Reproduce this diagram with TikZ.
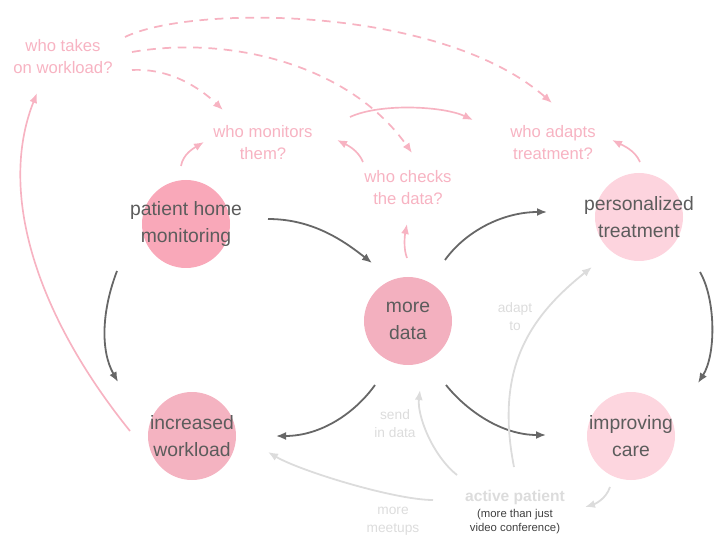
\documentclass[tikz,border=0pt]{standalone}
\usepackage{fontspec}
\setmainfont{Liberation Sans}
\usetikzlibrary{arrows.meta}
\definecolor{txtgray}{HTML}{5C5C5C}
\definecolor{flowgray}{HTML}{676767}
\definecolor{askpink}{HTML}{F7B3C2}
\definecolor{hintgray}{HTML}{DCDCDC}
\definecolor{pmfill}{HTML}{F9A8B9}
\definecolor{iwfill}{HTML}{F4B3C1}
\definecolor{mdfill}{HTML}{F3B0BF}
\definecolor{ptfill}{HTML}{FDD4DE}
\definecolor{icfill}{HTML}{FDD6DF}

\begin{document}
\begin{tikzpicture}[x=0.75pt,y=-0.75pt,
	bubble/.style={circle,inner sep=0pt,minimum size=66pt},
	bigtxt/.style={align=center,text=txtgray,font=\fontsize{14.5}{20}\selectfont},
	asktxt/.style={align=center,text=askpink,font=\fontsize{12.5}{16.5}\selectfont},
	hinttxt/.style={align=center,text=hintgray,font=\fontsize{10.3}{13.5}\selectfont},
	flow/.style={draw=flowgray,line width=1.35pt,-{Latex[length=7.5pt,width=6pt]}},
	ask/.style={draw=askpink,line width=1.25pt,-{Latex[length=7.5pt,width=6pt]}},
	askdash/.style={ask,line width=1.3pt,dash pattern=on 6.5pt off 5pt},
	hint/.style={draw=hintgray,line width=1.35pt,-{Latex[length=7.5pt,width=6pt]}}]
\useasboundingbox (0,0) rectangle (724,541);
% circles
\node[bubble,fill=pmfill](pm) at (186,224){};
\node[bubble,fill=iwfill](iw) at (192,436){};
\node[bubble,fill=mdfill](md) at (408,321){};
\node[bubble,fill=ptfill](pt) at (639,217){};
\node[bubble,fill=icfill](ic) at (631,436){};
\node[bigtxt](pmtxt) at (pm){patient home\\monitoring};
\node[bigtxt](iwtxt) at (iw){increased\\workload};
\node[bigtxt](mdtxt) at (md){more\\data};
\node[bigtxt](pttxt) at (pt){personalized\\treatment};
\node[bigtxt](ictxt) at (ic){improving\\care};
% questions
\node[asktxt](wt) at (63,57){who takes\\on workload?};
\node[asktxt](wm) at (263,143){who monitors\\them?};
\node[asktxt](wc) at (408,188){who checks\\the data?};
\node[asktxt](wa) at (553,143){who adapts\\treatment?};
% patient side
\node[text=hintgray,font=\fontsize{11.7}{14}\selectfont\bfseries](ap) at (515,497){active patient};
\node[align=center,text=black!75,font=\fontsize{8.5}{10.5}\selectfont](apsub) at (515,522){(more than just\\video conference)};
\node[hinttxt](adapt) at (515,317){adapt\\to};
\node[hinttxt](send) at (395,424){send\\in data};
\node[hinttxt](meet) at (393,521){more\\meetups};

\draw[flow]([shift={(82,-5)}]pm.center).. controls +(45,0) and +(-28,-22) ..([shift={(-36,-58)}]md.center);
\draw[flow]([shift={(37,-61)}]md.center).. controls +(20,-28) and +(-45,0) ..([shift={(-92,-5)}]pt.center);
\draw[flow]([shift={(-69,47)}]pm.center).. controls +(-15,39) and +(-18,-32) ..([shift={(-74,-54)}]iw.center);
\draw[flow]([shift={(-33,64)}]md.center).. controls +(-20,28) and +(45,0) ..([shift={(84,0)}]iw.center);
\draw[flow]([shift={(38,64)}]md.center).. controls +(20,25) and +(-45,0) ..([shift={(-85,-1)}]ic.center);
\draw[flow]([shift={(61,55)}]pt.center).. controls +(16,28) and +(18,-28) ..([shift={(67,-53)}]ic.center);

\draw[ask]([shift={(-62,-5)}]iw.center).. controls +(-92,-114) and +(-40,101) ..([shift={(-26,36)}]wt.center);
\draw[ask]([shift={(-5,-58)}]pm.center).. controls +(2,-12) and +(-10,6) ..([shift={(-59,-1)}]wm.center);
\draw[ask]([shift={(-1,-63)}]md.center).. controls +(-4,-10) and +(-2,10) ..([shift={(-1,36)}]wc.center);
\draw[ask]([shift={(1,-55)}]pt.center).. controls +(-5,-12) and +(10,5) ..([shift={(59,-3)}]wa.center);
\draw[ask]([shift={(-45,-26)}]wc.center).. controls +(-5,-12) and +(10,5) ..([shift={(74,-3)}]wm.center);
\draw[ask]([shift={(87,-26)}]wm.center).. controls +(30,-14) and +(-30,-14) ..([shift={(-80,-23)}]wa.center);

\draw[askdash]([shift={(62,-20)}]wt.center).. controls +(65,-32) and +(-112,-98) ..([shift={(-1,-40)}]wa.center);
\draw[askdash]([shift={(69,-5)}]wt.center).. controls +(98,-17) and +(-62,-88) ..([shift={(4,-35)}]wc.center);
\draw[askdash]([shift={(69,13)}]wt.center).. controls +(38,-2) and +(-23,-22) ..([shift={(-40,-33)}]wm.center);

\draw[hint]([shift={(-58,-22)}]ap.center).. controls +(-25,-20) and +(-3,25) ..([shift={(12,69)}]md.center);
\draw[hint]([shift={(-1,-30)}]ap.center).. controls +(-19,-97) and +(-64,51) ..([shift={(-47,50)}]pt.center);
\draw[hint]([shift={(-82,3)}]ap.center).. controls +(-38,0) and +(32,19) ..([shift={(76,16)}]iw.center);
\draw[hint]([shift={(-21,51)}]ic.center).. controls +(-4,12) and +(10,-3) ..([shift={(70,10)}]ap.center);
\end{tikzpicture}
\end{document}
